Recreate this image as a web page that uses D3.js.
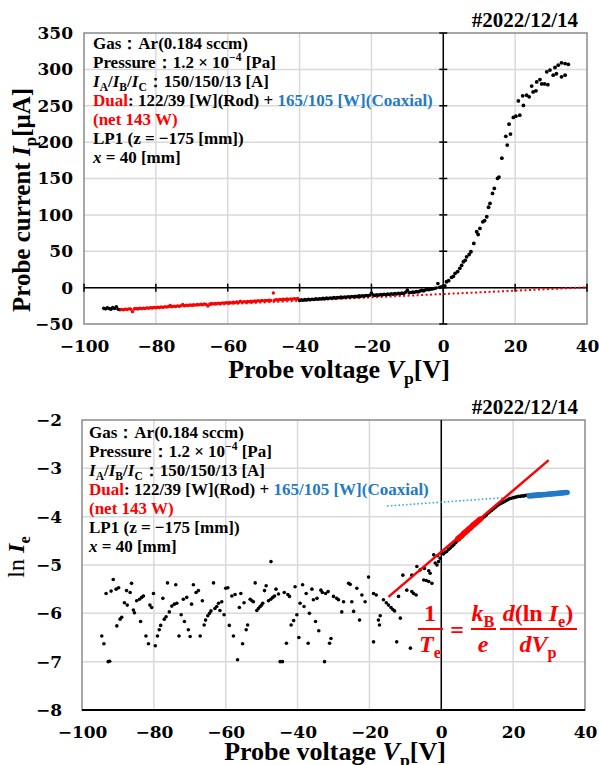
<!DOCTYPE html>
<html>
<head>
<meta charset="utf-8">
<script src="https://cdn.jsdelivr.net/npm/d3@7"></script>
<style>
body { margin: 0; background: white; }
</style>
</head>
<body>
<div id="chart"></div>
<script>
// Shared axis ticks
let xTicks = [-100, -80, -60, -40, -20, 0, 20, 40];
let ipTicks = [-50, 0, 50, 100, 150, 200, 250, 300, 350];
let lnTicks = [-8, -7, -6, -5, -4, -3, -2];
let dateLabel = "#2022/12/14";

// Probe current (uA) vs probe voltage (V)
let ipBlackLow = [[-94.5,-28.5],[-94,-29.2],[-93.5,-27.8],[-93,-28.8],[-92.5,-29.6],[-92,-27.4],[-91.5,-28.6],[-91,-26.2],[-90.5,-29.8]];
let ipRedIon = [[-90,-30.6],[-89.5,-29.9],[-89,-30.4],[-88.5,-29.6],[-88,-30.0],[-87.5,-29.2],[-87,-29.8],[-86.5,-33.0],[-86,-29.4],[-85.5,-28.7],[-85,-29.3],[-84.5,-28.4],[-84,-28.9],[-83.5,-28.2],[-83,-28.6],[-82.5,-27.8],[-82,-28.3],[-81.5,-27.5],[-81,-28.0],[-80.5,-27.2],[-80,-27.7],[-79.5,-26.9],[-79,-27.4],[-78.5,-26.6],[-78,-27.1],[-77.5,-26.3],[-77,-26.8],[-76.5,-26.0],[-76,-24.6],[-75.5,-26.2],[-75,-25.4],[-74.5,-25.9],[-74,-25.1],[-73.5,-25.6],[-73,-24.8],[-72.5,-23.2],[-72,-24.9],[-71.5,-24.2],[-71,-24.6],[-70.5,-23.8],[-70,-24.3],[-69.5,-23.5],[-69,-24.0],[-68.5,-23.2],[-68,-23.7],[-67.5,-22.9],[-67,-23.4],[-66.5,-22.6],[-66,-23.1],[-65.5,-25.2],[-65,-22.6],[-64.5,-21.9],[-64,-22.4],[-63.5,-21.6],[-63,-22.1],[-62.5,-21.3],[-62,-21.8],[-61.5,-21.0],[-61,-21.5],[-60.5,-20.7],[-60,-21.2],[-59.5,-20.4],[-59,-20.9],[-58.5,-20.1],[-58,-20.6],[-57.5,-19.8],[-57,-20.3],[-56.5,-18.6],[-56,-20.0],[-55.5,-19.3],[-55,-19.7],[-54.5,-19.0],[-54,-19.4],[-53.5,-18.7],[-53,-19.1],[-52.5,-18.4],[-52,-18.8],[-51.5,-18.1],[-51,-18.5],[-50.5,-17.8],[-50,-18.2],[-49.5,-17.5],[-49,-17.9],[-48.5,-17.2],[-48,-17.6],[-47.3,-7.4],[-47,-17.3],[-46.5,-16.6],[-46,-17.0],[-45.5,-16.3],[-45,-16.7],[-44.5,-16.0],[-44,-16.4],[-43.5,-15.7],[-43,-16.1],[-42.5,-15.4],[-42,-15.8],[-41.5,-15.2],[-41,-15.6],[-40.5,-14.9]];
let ipBlackMid = [[-40,-17.8],[-39.5,-16.9],[-39,-17.4],[-38.5,-16.5],[-38,-17.1],[-37.5,-16.2],[-37,-16.7],[-36.5,-15.9],[-36,-16.4],[-35.5,-15.5],[-35,-16.0],[-34.5,-15.2],[-34,-15.7],[-33.5,-14.8],[-33,-15.4],[-32.5,-14.5],[-32,-15.0],[-31.5,-14.2],[-31,-14.7],[-30.5,-13.8],[-30,-14.4],[-29.5,-13.5],[-29,-14.0],[-28.5,-13.1],[-28,-13.7],[-27.5,-12.8],[-27,-13.3],[-26.5,-12.5],[-26,-13.0],[-25.5,-12.1],[-25,-12.7],[-24.5,-11.8],[-24,-12.4],[-23.5,-11.4],[-23,-12.0],[-22.5,-11.1],[-22,-11.7],[-21.5,-10.8],[-21,-11.3],[-20.5,-10.4],[-20,-7.5],[-19.5,-10.1],[-19,-10.7],[-18.5,-9.8],[-18,-10.4],[-17.5,-9.5],[-17,-10.0],[-16.5,-9.2],[-16,-9.7],[-15.5,-8.9],[-15,-9.4],[-14.5,-8.5],[-14,-9.1],[-13.5,-8.2],[-13,-8.8],[-12.5,-7.9],[-12,-8.4],[-11.5,-7.6],[-11,-8.1],[-10.5,-6.5],[-10,-3.5],[-9.5,-7.0],[-9,-6.8],[-8.5,-6.2],[-8,-6.4],[-7.5,-5.5],[-7,-5.9],[-6.5,-4.8],[-6,-3.8],[-5.5,-4.5],[-5,-3.2],[-4.5,-2.6],[-4,-3.0],[-3.5,-2.0],[-3,-1.8],[-2.5,-1.2],[-2,-0.6],[-1.5,5.5],[-1,0.4],[-0.5,1.2],[0,1.8]];
let ipElectron = [[0.4,2.5],[0.9,8.1],[1.5,9.5],[2.3,14.1],[2.8,15.5],[3.3,19.6],[4.0,22],[4.6,26.5],[5.1,30.5],[5.6,35.6],[6.1,37.5],[6.5,42.4],[7.2,45.5],[7.7,49.3],[8.5,60.8],[9.3,76.8],[9.7,73],[10.2,81.4],[11.0,90.5],[11.5,92],[12.1,97.4],[12.6,110.5],[13.0,115.8],[13.7,129.5],[14.2,136.4],[15.1,150.1],[15.5,152],[16.3,178],[17.4,208],[17.8,195.9],[18.3,224.7],[18.7,211],[19.5,234],[20.2,235.7],[20.9,256.7],[21.3,237],[22.1,263.6],[22.3,250.4],[23.2,264.6],[23.9,262.3],[24.6,277],[25,269],[25.8,270.5],[26,282.8],[26.9,286],[27.4,280],[28.2,280],[28.8,296.6],[29.1,279],[29.7,299],[30.6,292],[31.1,302.6],[31.5,294],[32,305.8],[32.9,309],[32.9,289.7],[33.9,308],[33.9,292],[34.8,307]];
let ionFitLine = [[-90,-29.5],[40,0.4]];

// ln Ie vs probe voltage
let lnBlack = [[-94.5,-6.47],[-93.9,-6.63],[-92.7,-7.0],[-92.3,-6.99],[-93.3,-5.59],[-91.9,-5.54],[-91.3,-5.30],[-90.5,-5.50],[-89.8,-5.47],[-90.3,-6.26],[-89.4,-6.12],[-88.95,-6.08],[-88.2,-5.78],[-87.4,-5.83],[-87.6,-5.53],[-86.6,-5.57],[-86.2,-5.38],[-85.7,-5.93],[-85.4,-5.99],[-84.8,-5.74],[-84.0,-5.71],[-83.4,-5.67],[-82.9,-5.64],[-83.7,-6.17],[-82.2,-6.47],[-81.5,-6.63],[-81.1,-5.83],[-80.6,-5.88],[-80.1,-5.59],[-79.6,-6.67],[-79.0,-6.47],[-78.5,-6.34],[-78.1,-6.25],[-77.5,-5.69],[-77.1,-6.12],[-76.6,-6.07],[-76.2,-5.37],[-75.7,-5.97],[-75.0,-5.85],[-74.3,-5.81],[-73.6,-5.79],[-73.9,-5.41],[-73.0,-6.47],[-72.4,-6.03],[-71.8,-5.71],[-71.5,-6.17],[-70.85,-5.67],[-70.4,-6.34],[-69.9,-6.48],[-69.5,-5.81],[-69.0,-5.41],[-68.25,-5.57],[-67.6,-5.53],[-67.1,-6.47],[-66.5,-5.74],[-66.0,-6.24],[-65.6,-6.14],[-65.0,-6.05],[-64.5,-6.0],[-64.1,-5.95],[-63.4,-5.37],[-63.0,-5.90],[-62.5,-5.86],[-62.0,-5.79],[-61.6,-5.94],[-61.1,-5.76],[-60.45,-6.03],[-60.0,-5.48],[-59.4,-5.47],[-59.0,-6.25],[-58.3,-5.64],[-57.85,-6.47],[-57.4,-5.61],[-56.7,-6.96],[-56.2,-5.88],[-55.8,-5.59],[-55.3,-6.63],[-54.9,-5.78],[-54.3,-6.34],[-53.9,-6.24],[-53.2,-5.71],[-52.7,-5.74],[-52.3,-5.76],[-51.8,-5.37],[-51.35,-5.94],[-50.9,-5.90],[-50.4,-5.86],[-50.0,-5.83],[-49.7,-5.79],[-49.2,-5.53],[-48.75,-5.43],[-48.1,-5.74],[-47.45,-5.71],[-46.9,-5.67],[-46.4,-5.64],[-46.0,-5.50],[-45.3,-5.60],[-44.85,-7.0],[-44.2,-7.0],[-43.7,-5.57],[-43.1,-6.62],[-42.7,-5.61],[-42.25,-5.65],[-41.8,-6.24],[-41.1,-6.15],[-40.7,-5.45],[-40.2,-6.03],[-39.65,-6.50],[-39.3,-5.79],[-38.6,-5.41],[-38.2,-5.86],[-37.6,-5.59],[-37.05,-6.62],[-36.7,-6.0],[-36.0,-5.50],[-35.6,-5.72],[-35.0,-6.17],[-34.6,-5.69],[-34.1,-6.36],[-33.5,-5.52],[-33.1,-5.57],[-32.5,-7.0],[-32.2,-5.59],[-31.5,-5.55],[-31.1,-6.62],[-30.7,-6.52],[-30.0,-5.65],[-29.1,-5.69],[-28.6,-5.72],[-47.4,-4.93],
  [-27.2,-5.76],[-27.7,-5.97],[-25.8,-5.38],[-25.35,-5.40],[-24.4,-5.96],[-24.9,-5.76],[-23.5,-5.48],[-22.75,-6.14],[-22.1,-5.62],[-21.2,-5.76],[-20.25,-5.25],[-18.85,-5.59],[-18.1,-5.62],[-18.85,-6.59],[-17.5,-6.14],[-17.0,-6.05],[-17.2,-6.24],[-16.1,-5.72],[-15.3,-5.78],[-14.7,-5.83],[-14.0,-5.88],[-13.5,-5.92],[-13.0,-5.95],[-11.4,-6.10],[-12.4,-6.59],[-11.9,-5.65],[-10.7,-5.21],[-9.6,-5.52],[-8.6,-6.72],[-8.2,-5.55],[-7.7,-5.59],[-7.0,-5.62],[-8.2,-5.21],[-6.8,-5.03],[-5.85,-5.10],[-4.9,-5.31],[-4.2,-5.32],[-3.5,-5.34],[-2.6,-5.38],[-4.7,-5.07],[-3.5,-5.12],[-3.1,-5.17],[-1.7,-4.96],[-1.2,-5.0],[-0.75,-4.93],[-0.3,-4.86],[-2.1,-4.79],[-1.0,-4.81],[0.2,-4.76],
  [0.6,-4.77],[1.0,-4.74],[1.5,-4.72],[2.0,-4.68],[2.5,-4.65],[3.0,-4.61],[3.5,-4.58],[4.0,-4.54],[4.5,-4.50],[5.0,-4.47],[5.5,-4.43],[6.0,-4.40],[6.5,-4.36],[7.0,-4.33],[7.5,-4.30],[8.0,-4.26],[8.5,-4.23],[9.0,-4.19],[9.5,-4.16],[10.0,-4.13],[10.5,-4.09],[11.0,-4.06],[11.5,-4.03],[12.0,-4.00],[12.5,-3.97],[13.0,-3.93],[13.5,-3.90],[14.0,-3.87],[14.5,-3.84],[15.0,-3.81],[15.5,-3.78],[16.0,-3.75],[16.5,-3.73],[17.0,-3.71],[17.5,-3.69],[18.0,-3.67],[18.5,-3.65],[19.0,-3.63],[19.5,-3.62],[20.0,-3.61],[20.5,-3.60],[21.0,-3.59],[21.5,-3.58],[22.0,-3.58],[22.5,-3.57],[23.0,-3.57],[23.5,-3.56],[24.0,-3.56]];
let lnRed = [[4.6,-4.46],[5.0,-4.43],[5.4,-4.41],[5.8,-4.38],[6.2,-4.35],[6.5,-4.33],[6.9,-4.31],[7.3,-4.28],[7.7,-4.25],[8.1,-4.23],[8.5,-4.20],[8.9,-4.17],[9.3,-4.15],[9.7,-4.12],[10.1,-4.10],[10.5,-4.07],[10.9,-4.05]];
let lnBlue = [[24.5,-3.57],[25,-3.565],[25.5,-3.56],[26,-3.56],[26.5,-3.555],[27,-3.55],[27.5,-3.55],[28,-3.545],[28.5,-3.54],[29,-3.54],[29.5,-3.535],[30,-3.53],[30.5,-3.53],[31,-3.525],[31.5,-3.52],[32,-3.52],[32.5,-3.515],[33,-3.51],[33.5,-3.51],[34,-3.505],[34.5,-3.50],[35,-3.50]];
let teFitLine = [[-14.7,-5.66],[29.9,-2.83]];
let coaxFitLine = [[-15.1,-3.78],[34.1,-3.52]];

let w = 599;
let h = 765;
let RED = "#ff0000";
let BLUE = "#2379c6";
let SERIF = "'Liberation Serif', 'Times New Roman', serif";
let TICKFONT = "'DejaVu Serif', serif";

let svg = d3.select("#chart")
    .append("svg")
    .attr("width", w)
    .attr("height", h)
    .style("background-color", "white");

// Text made of several styled runs (subscripts, superscripts, italics, colours)
function richText(parent, x, y, parts, size, anchor) {
    let t = parent.append("text")
        .attr("x", x)
        .attr("y", y)
        .attr("font-family", SERIF)
        .attr("font-weight", "bold")
        .attr("font-size", size)
        .attr("text-anchor", anchor || "start");
    let shift = 0;
    for (let p of parts) {
        let s = p.sub ? size * 0.24 : (p.sup ? -size * 0.4 : 0);
        let ts = t.append("tspan").text(p.t).attr("dy", s - shift);
        if (p.sub || p.sup) ts.attr("font-size", size * 0.68);
        if (p.it) ts.attr("font-style", "italic");
        if (p.fill) ts.attr("fill", p.fill);
        if (p.w) ts.attr("font-weight", p.w);
        shift = s;
    }
    return t;
}

function drawPanel(cfg) {
    let g = svg.append("g");
    let x = d3.scaleLinear().domain([-100, 40]).range([cfg.left, cfg.right]);
    let y = d3.scaleLinear().domain([cfg.yTicks[0], cfg.yTicks[cfg.yTicks.length - 1]]).range([cfg.bottom, cfg.top]);

    // grid
    g.selectAll("line.vgrid")
        .data(xTicks.slice(1, -1))
        .join("line")
        .attr("class", "vgrid")
        .attr("x1", d => x(d)).attr("x2", d => x(d))
        .attr("y1", cfg.top).attr("y2", cfg.bottom)
        .attr("stroke", "#d9d9d9").attr("stroke-width", 1.5);
    g.selectAll("line.hgrid")
        .data(cfg.yTicks.slice(1, -1))
        .join("line")
        .attr("class", "hgrid")
        .attr("x1", cfg.left).attr("x2", cfg.right)
        .attr("y1", d => y(d)).attr("y2", d => y(d))
        .attr("stroke", "#d9d9d9").attr("stroke-width", 1.5);

    g.append("rect")
        .attr("x", cfg.left).attr("y", cfg.top)
        .attr("width", cfg.right - cfg.left).attr("height", cfg.bottom - cfg.top)
        .attr("fill", "none").attr("stroke", "#8a8a8a").attr("stroke-width", 1.5);

    // tick labels
    let fmt = d3.format("d");
    let ax = g.append("g")
        .attr("transform", `translate(0,${cfg.bottom})`)
        .call(d3.axisBottom(x).tickValues(xTicks).tickSize(0).tickPadding(cfg.xPad).tickFormat(fmt));
    let ay = g.append("g")
        .attr("transform", `translate(${cfg.left},0)`)
        .call(d3.axisLeft(y).tickValues(cfg.yTicks).tickSize(0).tickPadding(cfg.yPad).tickFormat(fmt));
    for (let a of [ax, ay]) {
        a.select(".domain").remove();
        a.selectAll("text")
            .attr("font-family", TICKFONT)
            .attr("font-weight", "bold")
            .attr("font-size", 17)
            .attr("fill", "black");
    }

    // vertical zero line
    g.append("line")
        .attr("x1", x(0)).attr("x2", x(0))
        .attr("y1", cfg.top).attr("y2", cfg.bottom)
        .attr("stroke", "black").attr("stroke-width", 1.5);

    // date label
    g.append("text")
        .attr("x", 578).attr("y", cfg.top - 6)
        .attr("text-anchor", "end")
        .attr("font-family", SERIF).attr("font-weight", "bold").attr("font-size", 21)
        .text(dateLabel);

    // x axis title
    richText(g, cfg.xTitleX, cfg.xTitleY, [
        {t: "Probe voltage "}, {t: "V", it: true}, {t: "p", sub: true}, {t: "[V]"}
    ], 26, "middle");

    return {g: g, x: x, y: y};
}

function drawNotes(g, x0, y0) {
    let step = 19;
    let lines = [
        [{t: "Gas："}, {t: "Ar(0.184 sccm)"}],
        [{t: "Pressure：1.2 × 10"}, {t: "−4", sup: true}, {t: " [Pa]"}],
        [{t: " "}, {t: "I", it: true}, {t: "A", sub: true}, {t: "/"}, {t: "I", it: true}, {t: "B", sub: true}, {t: "/"}, {t: "I", it: true}, {t: "C", sub: true}, {t: "：150/150/13 [A]"}],
        [{t: "Dual", fill: RED}, {t: ": 122/39 [W](Rod) + "}, {t: "165/105 [W](Coaxial)", fill: BLUE}],
        [{t: "(net 143 W)", fill: RED}],
        [{t: "LP1 (z = −175 [mm])"}],
        [{t: "x", it: true}, {t: " = 40 [mm]"}]
    ];
    lines.forEach((parts, i) => richText(g, x0, y0 + i * step, parts, 17));
}

function dots(g, x, y, data, r, color) {
    g.append("g")
        .selectAll("circle")
        .data(data)
        .join("circle")
        .attr("cx", d => x(d[0]))
        .attr("cy", d => y(d[1]))
        .attr("r", r)
        .attr("fill", color);
}

let lineGen = (sx, sy) => d3.line().x(d => sx(d[0])).y(d => sy(d[1]));

// ---------- top panel: probe current ----------
let ipPanel = drawPanel({left: 84, right: 587, top: 33, bottom: 324, yTicks: ipTicks,
    xPad: 16, yPad: 11, xTitleX: 339, xTitleY: 378});

// horizontal zero line with tick marks
ipPanel.g.append("line")
    .attr("x1", ipPanel.x(-100)).attr("x2", ipPanel.x(40))
    .attr("y1", ipPanel.y(0)).attr("y2", ipPanel.y(0))
    .attr("stroke", "black").attr("stroke-width", 1.5);
ipPanel.g.selectAll("line.xtk")
    .data(xTicks)
    .join("line")
    .attr("class", "xtk")
    .attr("x1", d => ipPanel.x(d)).attr("x2", d => ipPanel.x(d))
    .attr("y1", ipPanel.y(0) - 4).attr("y2", ipPanel.y(0) + 4)
    .attr("stroke", "black").attr("stroke-width", 1.5);
ipPanel.g.selectAll("line.ytk")
    .data(ipTicks)
    .join("line")
    .attr("class", "ytk")
    .attr("x1", ipPanel.x(0) - 4).attr("x2", ipPanel.x(0) + 4)
    .attr("y1", d => ipPanel.y(d)).attr("y2", d => ipPanel.y(d))
    .attr("stroke", "black").attr("stroke-width", 1.5);

drawNotes(ipPanel.g, 93, 49);

ipPanel.g.append("path")
    .attr("d", lineGen(ipPanel.x, ipPanel.y)(ionFitLine))
    .attr("fill", "none").attr("stroke", RED)
    .attr("stroke-width", 2).attr("stroke-dasharray", "2,2.5");

dots(ipPanel.g, ipPanel.x, ipPanel.y, ipRedIon, 1.7, RED);
dots(ipPanel.g, ipPanel.x, ipPanel.y, ipBlackLow, 1.8, "black");
dots(ipPanel.g, ipPanel.x, ipPanel.y, ipBlackMid, 1.8, "black");
dots(ipPanel.g, ipPanel.x, ipPanel.y, ipElectron, 1.9, "black");

// y title
richText(ipPanel.g.append("g").attr("transform", "rotate(-90)"), -200, 30, [
    {t: "Probe current "}, {t: "I", it: true}, {t: "p", sub: true}, {t: "[μA]"}
], 25, "middle");

// ---------- bottom panel: ln Ie ----------
let lnPanel = drawPanel({left: 82, right: 585, top: 420, bottom: 710, yTicks: lnTicks,
    xPad: 16, yPad: 20, xTitleX: 335, xTitleY: 760});

lnPanel.g.append("line")
    .attr("x1", 82).attr("x2", 585)
    .attr("y1", 710).attr("y2", 710)
    .attr("stroke", "black").attr("stroke-width", 2);

drawNotes(lnPanel.g, 89, 438);

lnPanel.g.append("path")
    .attr("d", lineGen(lnPanel.x, lnPanel.y)(coaxFitLine))
    .attr("fill", "none").attr("stroke", "#3aa8e8")
    .attr("stroke-width", 1.6).attr("stroke-dasharray", "1.6,2.2");

dots(lnPanel.g, lnPanel.x, lnPanel.y, lnBlack, 1.8, "black");

lnPanel.g.append("path")
    .attr("d", lineGen(lnPanel.x, lnPanel.y)(teFitLine))
    .attr("fill", "none").attr("stroke", RED).attr("stroke-width", 2.5);

dots(lnPanel.g, lnPanel.x, lnPanel.y, lnRed, 2.8, RED);
dots(lnPanel.g, lnPanel.x, lnPanel.y, lnBlue, 2.8, BLUE);

richText(lnPanel.g.append("g").attr("transform", "rotate(-90)"), -557, 24, [
    {t: "ln ", w: "normal"}, {t: "I", it: true}, {t: "e", sub: true}
], 24, "middle");

// formula 1/Te = (kB/e) d(ln Ie)/dVp
let fg = lnPanel.g.append("g").attr("fill", RED);
function fracBar(x1, x2) {
    fg.append("line").attr("x1", x1).attr("x2", x2).attr("y1", 629).attr("y2", 629)
        .attr("stroke", RED).attr("stroke-width", 2);
}
richText(fg, 430, 621, [{t: "1"}], 24, "middle").attr("fill", RED);
fracBar(418, 443);
richText(fg, 430, 652, [{t: "T", it: true}, {t: "e", sub: true}], 24, "middle").attr("fill", RED);
richText(fg, 457, 638, [{t: "="}], 24, "middle").attr("fill", RED);
richText(fg, 483, 621, [{t: "k", it: true}, {t: "B", sub: true}], 24, "middle").attr("fill", RED);
fracBar(471, 496);
richText(fg, 483, 652, [{t: "e", it: true}], 24, "middle").attr("fill", RED);
richText(fg, 538, 621, [{t: "d", it: true}, {t: "(ln "}, {t: "I", it: true}, {t: "e", sub: true}, {t: ")"}], 24, "middle").attr("fill", RED);
fracBar(500, 577);
richText(fg, 538, 652, [{t: "dV", it: true}, {t: "p", sub: true}], 24, "middle").attr("fill", RED);
</script>
</body>
</html>
